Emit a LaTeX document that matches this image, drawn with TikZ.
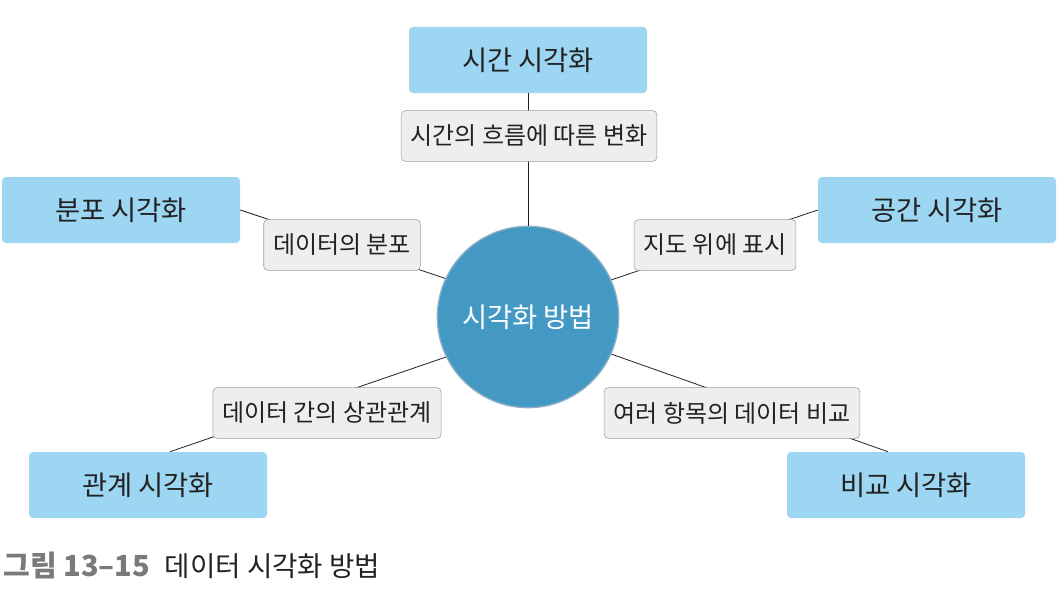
\documentclass[tikz,border=0pt]{standalone}
\usepackage{fontspec}
\setmainfont{Noto Sans CJK KR}
\definecolor{boxblue}{HTML}{9DD6F2}
\definecolor{hubblue}{HTML}{4399C4}
\definecolor{hubrim}{HTML}{8FAFC4}
\definecolor{tagfill}{HTML}{EEEEF0}
\definecolor{tagrim}{HTML}{9A9A9A}
\definecolor{inkdark}{HTML}{222222}
\definecolor{capgray}{HTML}{7A7A7A}
\begin{document}
\begin{tikzpicture}[x=0.75pt,y=-0.75pt,
  kind/.style={fill=boxblue,rounded corners=3pt,minimum width=178.5pt,minimum height=49.5pt,
    inner sep=0pt,text=inkdark,font=\fontsize{20.5}{22}\selectfont},
  tag/.style={draw=tagrim,fill=tagfill,rounded corners=3pt,minimum height=38pt,inner xsep=7pt,
    inner ysep=0pt,text=inkdark,font=\fontsize{18}{20}\selectfont},
  link/.style={draw=inkdark,line width=0.6pt}]
\useasboundingbox (0,0) rectangle (1063,592);
% the five kinds of charts
\node[kind] (time)  at (528,60)  {시간 시각화};
\node[kind] (dist)  at (121,210) {분포 시각화};
\node[kind] (space) at (937,210) {공간 시각화};
\node[kind] (rel)   at (148,485) {관계 시각화};
\node[kind] (comp)  at (906,485) {비교 시각화};
% hub in the middle
\node[circle,draw=hubrim,line width=1pt,fill=hubblue,minimum size=136pt,inner sep=0pt,text=white,
  font=\fontsize{20.5}{22}\selectfont] (hub) at (528,317) {시각화 방법};
% spokes
\draw[link] (hub.north) -- (time.south);
\draw[link] (hub.155) -- (dist.east);
\draw[link] (hub.24) -- (space.west);
\draw[link] (hub.206) -- ([xshift=16.5pt]rel.north);
\draw[link] (hub.-24) -- ([xshift=-13.5pt]comp.north);
% labels on the spokes
\node[tag] (timetag)  at (529,136) {시간의 흐름에 따른 변화};
\node[tag] (disttag)  at (342,245) {데이터의 분포};
\node[tag] (spacetag) at (715,245) {지도 위에 표시};
\node[tag] (reltag)   at (327,413) {데이터 간의 상관관계};
\node[tag] (comptag)  at (732,413) {여러 항목의 데이터 비교};
% caption
\node[anchor=west,inner sep=0pt,font=\fontsize{20.7}{23}\selectfont] (cap) at (3,565)
  {\textcolor{capgray}{\fontsize{21.8}{23}\selectfont\bfseries 그림 13–15}\hspace{11pt}\textcolor{inkdark}{데이터 시각화 방법}};
\end{tikzpicture}
\end{document}
